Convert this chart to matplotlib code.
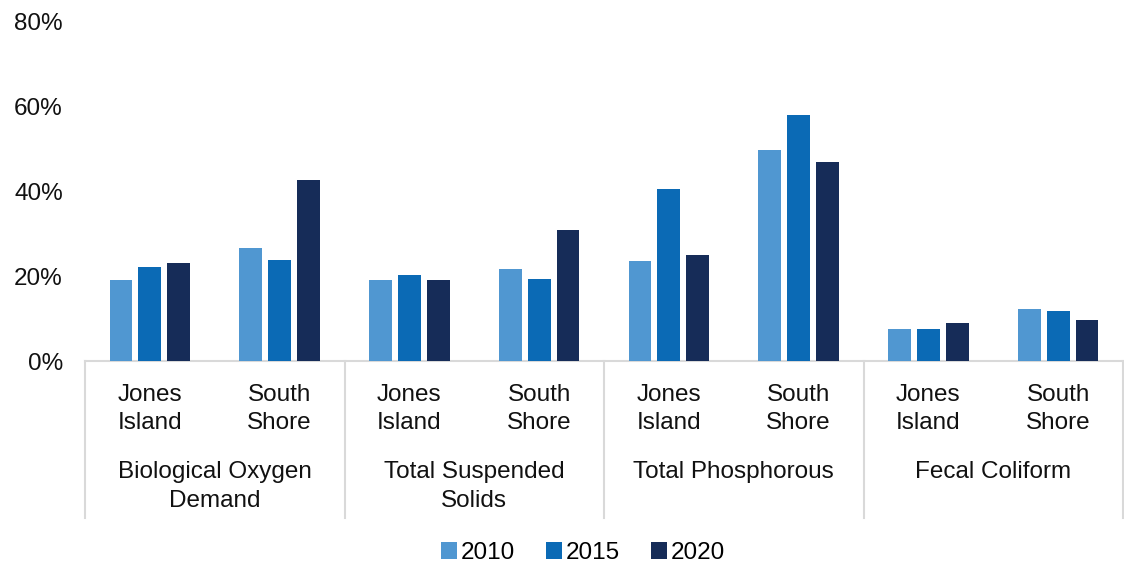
import numpy as np
import matplotlib
matplotlib.use("Agg")
import matplotlib.pyplot as plt
import matplotlib.transforms as mtransforms

plt.rcParams['font.family'] = ['Liberation Sans', 'DejaVu Sans']

# data (percent)
groups = ["Biological Oxygen\nDemand", "Total Suspended\nSolids", "Total Phosphorous", "Fecal Coliform"]
plants = ["Jones\nIsland", "South\nShore"]
years = ["2010", "2015", "2020"]
vals_2010 = [19.2, 26.7, 19.2, 21.8, 23.5, 49.9, 7.6, 12.3]
vals_2015 = [22.2, 23.8, 20.4, 19.4, 40.7, 58.0, 7.6, 11.8]
vals_2020 = [23.1, 42.8, 19.1, 30.9, 25.0, 47.0, 9.0, 9.7]
colors = ["#5097d1", "#0b6ab5", "#162c58"]

W, H = 1124, 567
FS = 17.5
fig = plt.figure(figsize=(W / 100, H / 100), dpi=100)
ax = fig.add_axes([85 / W, 1 - 361 / H, (1123 - 85) / W, (361 - 22) / H])

x = np.arange(len(vals_2010))
step = 0.222
width = 0.176
for i, (vals, c, lab) in enumerate(zip([vals_2010, vals_2015, vals_2020], colors, years)):
    ax.bar(x + (i - 1) * step, vals, width=width, color=c, label=lab, zorder=3)

ax.set_xlim(-0.5, len(x) - 0.5)
ax.set_ylim(0, 80)
ax.set_yticks([0, 20, 40, 60, 80])
ax.set_yticklabels([f"{v}%" for v in [0, 20, 40, 60, 80]], fontsize=FS, color="#111111")
ax.tick_params(axis='y', length=0, pad=16)
ax.set_xticks([])
for s in ["top", "right", "left"]:
    ax.spines[s].set_visible(False)
ax.spines["bottom"].set_color("#d9d9d9")
ax.spines["bottom"].set_linewidth(1.5)

trans = mtransforms.blended_transform_factory(ax.transData, fig.transFigure)
lab_kw = dict(fontsize=FS, color="#111111", ha="center", va="center", linespacing=1.4, transform=trans)
for k in range(len(x)):
    ax.text(x[k], 1 - 409 / H, plants[k % 2], **lab_kw)
for g, name in enumerate(groups):
    nlines = name.count("\n") + 1
    ax.text(2 * g + 0.5, 1 - (472 + 14.5 * (nlines - 1)) / H, name, **lab_kw)
for g in range(len(groups) + 1):
    ax.plot([2 * g - 0.5] * 2, [1 - 361 / H, 1 - 518 / H], color="#d9d9d9", lw=1.5,
            transform=trans, clip_on=False)

ax.legend(loc="center", bbox_to_anchor=(583 / W, 1 - 553 / H), bbox_transform=fig.transFigure,
          ncol=3, frameon=False, fontsize=FS, handlelength=0.65, handleheight=0.65,
          handletextpad=0.15, columnspacing=1.3)

fig.savefig("out.png", dpi=100)
